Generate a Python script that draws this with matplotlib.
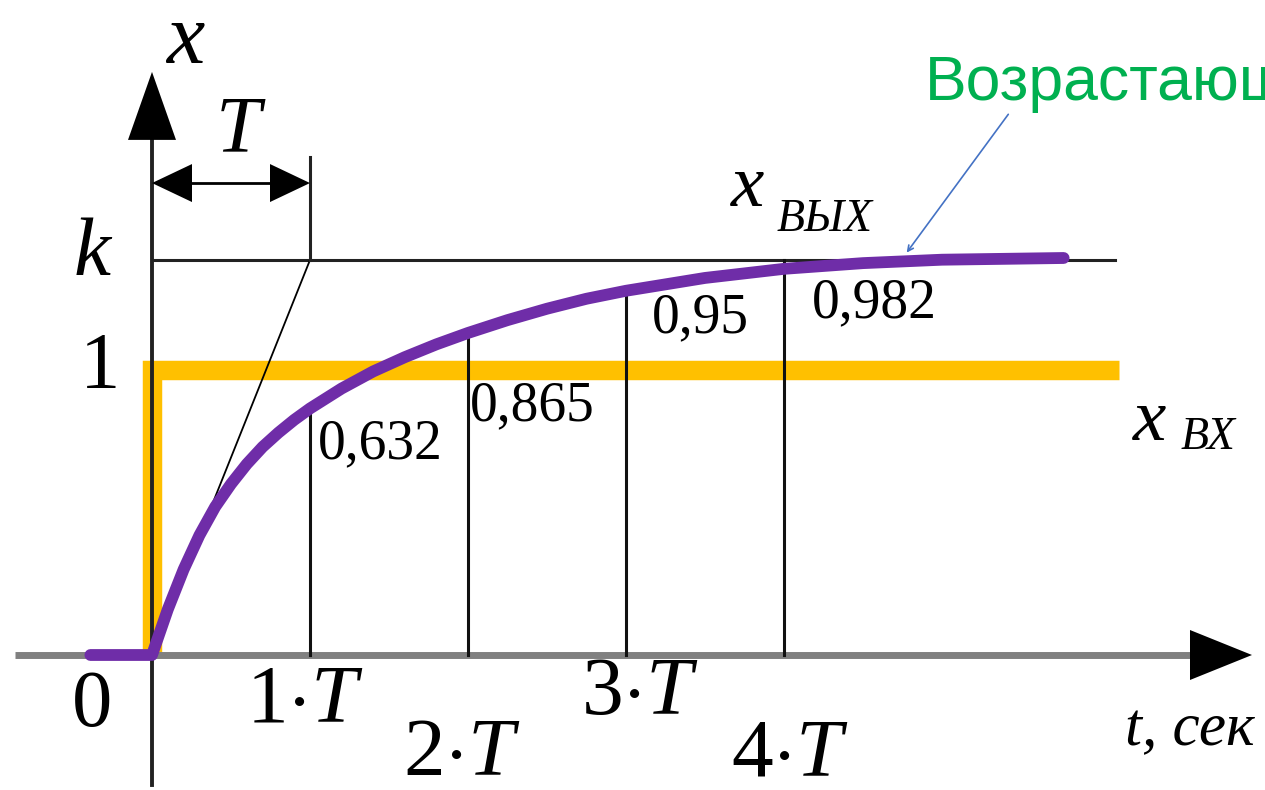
import numpy as np
import matplotlib.pyplot as plt

plt.rcParams['mathtext.fontset'] = 'custom'
plt.rcParams['mathtext.rm'] = 'Liberation Serif'
plt.rcParams['mathtext.it'] = 'Liberation Serif:italic'

# Data (time in units of T, output in units of the step height)
K = 1.386
curve_t = [-0.39, 0.0, 0.1, 0.2, 0.3, 0.4, 0.5, 0.6, 0.7, 0.8, 0.9, 1.0, 1.2, 1.4,
           1.6, 1.8, 2.0, 2.25, 2.5, 2.75, 3.0, 3.5, 4.0, 4.5, 5.0, 5.77]
curve_x = [0.0, 0.0, 0.16, 0.30, 0.42, 0.52, 0.60, 0.67, 0.73, 0.78, 0.825, 0.865,
           0.935, 0.995, 1.045, 1.09, 1.13, 1.175, 1.215, 1.25, 1.278, 1.323,
           1.355, 1.375, 1.387, 1.393]
step_t = [0.0, 0.0, 6.12]
step_x = [0.0, 1.0, 1.0]
marks = [1, 2, 3, 4]
fractions = ['0,632', '0,865', '0,95', '0,982']
mark_labels = [r'$1{\cdot}T$', r'$2{\cdot}T$', r'$3{\cdot}T$', r'$4{\cdot}T$']

PX_T, PX_Y = 158.0, 285.0  # pixels per unit on each axis

fig = plt.figure(figsize=(12.65, 7.9), dpi=100)
ax = fig.add_axes([0, 0, 1, 1])
ax.set_xlim(-152 / PX_T, 1113 / PX_T)
ax.set_ylim(-135 / PX_Y, 655 / PX_Y)
ax.axis('off')

serif = 'Liberation Serif'


def head(tx, ty, direction, length, half):
    # filled triangular arrow head, sizes in pixels
    L = length / (PX_T if direction in ('left', 'right') else PX_Y)
    if direction == 'right':
        pts = [(tx, ty), (tx - L, ty + half / PX_Y), (tx - L, ty - half / PX_Y)]
    elif direction == 'left':
        pts = [(tx, ty), (tx + L, ty + half / PX_Y), (tx + L, ty - half / PX_Y)]
    else:
        pts = [(tx, ty), (tx - half / PX_T, ty - L), (tx + half / PX_T, ty - L)]
    xs, ys = zip(*pts)
    ax.fill(xs, ys, color='black', lw=0, zorder=6)


# axes
ax.plot([-0.867, 6.57], [0, 0], color='#808080', lw=5, solid_capstyle='butt', zorder=2)
head(6.962, 0, 'right', 62, 25)
ax.plot([0, 0], [-0.456, 1.85], color='#222222', lw=2.8, zorder=3)
head(0, 2.046, 'up', 68, 24)

# input step
ax.plot(step_t, step_x, color='#FFC000', lw=14, solid_capstyle='butt',
        solid_joinstyle='miter', zorder=1)

# k level and time marks
ax.plot([0, 6.095], [K, K], color='#222222', lw=2.2, zorder=3)
for m in marks:
    top = K if m == 4 else np.interp(m, curve_t, curve_x)
    ax.plot([m, m], [0, top], color='#111111', lw=2.2, zorder=3)

# tangent and T dimension
ax.plot([0, 1], [0, K], color='black', lw=1.3, zorder=3)
ax.plot([1, 1], [K, 1.747], color='#222222', lw=2.2, zorder=3)
dim_y = 1.656
ax.plot([0.15, 0.85], [dim_y, dim_y], color='black', lw=2, zorder=3)
head(0.0, dim_y, 'left', 40, 19)
head(1.0, dim_y, 'right', 40, 19)

# output curve
ax.plot(curve_t, curve_x, color='#6F2DA8', lw=8.5, solid_capstyle='round',
        solid_joinstyle='round', zorder=4)

# labels
ax.text(0.209, 2.151, 'x', fontsize=62, family=serif, style='italic', ha='center', va='center')
ax.text(0.544, 1.835, 'T', fontsize=58, family=serif, style='italic', ha='center', va='center')
ax.text(-0.380, 1.404, 'k', fontsize=60, family=serif, style='italic', ha='center', va='center')
ax.text(-0.329, 1.007, '1', fontsize=58, family=serif, ha='center', va='center')
ax.text(-0.380, -0.182, '0', fontsize=58, family=serif, ha='center', va='center')

label_pos = [(0.968, -0.151), (1.962, -0.340), (3.089, -0.123), (4.038, -0.340)]
for (lx, ly), lab in zip(label_pos, mark_labels):
    ax.text(lx, ly, lab, fontsize=60, ha='center', va='center')

frac_pos = [(1.051, 0.832), (2.013, 0.965), (3.165, 1.274), (4.177, 1.326)]
for (fx, fy), f in zip(frac_pos, fractions):
    ax.text(fx, fy, f, fontsize=40, family=serif, ha='left', va='top', zorder=7)

ax.text(6.57, -0.263, 't, сек', fontsize=44, family=serif, style='italic', ha='center', va='center')

ax.text(3.772, 1.639, 'x', fontsize=54, family=serif, style='italic', ha='center', va='center')
ax.text(4.259, 1.526, 'ВЫХ', fontsize=33, family=serif, style='italic', ha='center', va='center')
ax.text(6.316, 0.818, 'x', fontsize=54, family=serif, style='italic', ha='center', va='center')
ax.text(6.684, 0.761, 'ВХ', fontsize=33, family=serif, style='italic', ha='center', va='center')

# green callout (cut by the right edge, as in the source)
ax.text(4.892, 1.947, 'Возрастающ', fontsize=45, family='Liberation Sans',
        color='#00B050', ha='left', va='baseline', clip_on=False)
ax.annotate('', xy=(4.766, 1.404), xytext=(5.430, 1.905),
            arrowprops=dict(arrowstyle='->', color='#4472C4', lw=1.2))

fig.savefig('out.png', dpi=100)
